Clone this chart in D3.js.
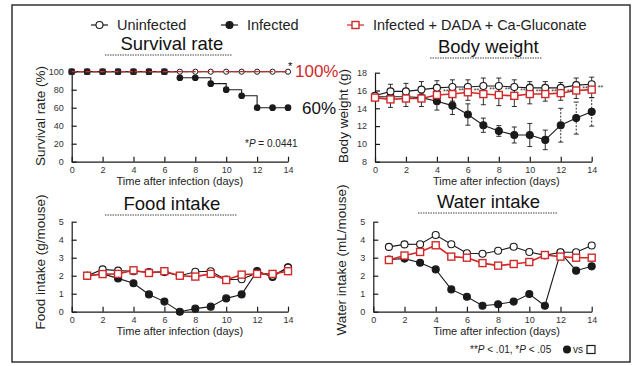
<!DOCTYPE html>
<html>
<head>
<meta charset="utf-8">
<script src="https://cdn.jsdelivr.net/npm/d3@7"></script>
<style>
  html, body { margin: 0; padding: 0; background: #fff; }
  svg { display: block; font-family: "Liberation Sans", Arial, sans-serif; }
</style>
</head>
<body>
<svg id="chart" width="637" height="366"></svg>
<script>
// ---- data ----
const days = d3.range(0, 15);            // 0..14
const intakeDays = d3.range(1, 15);      // 1..14

const survivalUninfected = [100,100,100,100,100,100,100,100,100,100,100,100,100,100,100];
const survivalInfected   = [100,100,100,100,100,100,100,93.3,93.3,86.7,80,73.3,60,60,60];
const survivalTreated    = [100,100,100,100,100,100,100,100,100,100,100,100,100,100,100];

const weightUninfected   = [15.4,15.9,15.9,16.1,16.3,16.4,16.4,16.5,16.5,16.4,16.3,16.3,16.3,16.6,16.7];
const weightUninfectedSD = [0.3,0.8,0.9,0.9,0.8,0.8,0.8,0.9,0.9,0.8,0.7,0.7,0.6,0.8,0.8];
const weightInfected     = [15.3,15.3,15.3,15.2,14.8,14.3,13.3,12.1,11.45,11.0,11.0,10.45,12.1,12.9,13.6];
const weightInfectedSD   = [0.3,0.4,0.4,0.4,1.0,1.0,1.2,0.8,0.6,0.9,1.3,1.1,1.9,1.8,1.6];
const weightTreated      = [15.2,15.0,15.1,15.1,15.5,15.6,15.8,15.6,15.5,15.4,15.6,15.6,15.7,16.0,16.1];
const weightTreatedSD    = [0.3,0.9,0.9,0.9,0.8,0.8,0.9,1.2,1.2,1.2,1.1,0.8,0.8,0.9,0.9];
const weightStarDays     = [4,5,6,7,8,9,10,11,12,13,14];

const foodUninfected = [2.0,2.35,2.28,2.25,2.2,2.2,2.0,2.22,2.25,1.78,1.8,2.15,2.0,2.45];
const foodInfected   = [2.0,2.1,1.85,1.58,0.96,0.56,0.0,0.17,0.28,0.74,0.96,2.26,1.93,2.47];
const foodTreated    = [2.0,2.09,2.1,2.3,2.15,2.25,2.0,1.95,2.1,1.76,2.06,2.1,2.1,2.25];

const waterUninfected = [3.6,3.74,3.75,4.26,3.75,3.25,3.22,3.39,3.61,3.32,3.13,3.3,3.3,3.68];
const waterInfected   = [2.9,2.95,2.72,2.35,1.24,0.83,0.33,0.41,0.56,0.98,0.33,3.28,2.28,2.52];
const waterTreated    = [2.87,3.12,3.32,3.69,3.06,3.0,2.7,2.56,2.65,2.76,3.15,3.06,3.0,3.0];

const xTicks        = [0,2,4,6,8,10,12,14];
const survivalTicks = [0,20,40,60,80,100];
const weightTicks   = [8,10,12,14,16,18];
const intakeTicks   = [0,1,2,3,4,5];

const legendLabels = ["Uninfected", "Infected", "Infected + DADA + Ca-Gluconate"];

// ---- styling ----
const RED = "#d12a2a";
const INK = "#1a1a1a";
const svg = d3.select("#chart");

// outer frame
svg.append("rect")
  .attr("x", 12).attr("y", 5).attr("width", 618).attr("height", 357)
  .attr("fill", "none").attr("stroke", "#333").attr("stroke-width", 1.5);

// legend
const legendItems = [
  { label: legendLabels[0], x: 91,  kind: "open" },
  { label: legendLabels[1], x: 221, kind: "filled" },
  { label: legendLabels[2], x: 347, kind: "square" }
];
const lg = svg.append("g").attr("transform", "translate(0,25)");
legendItems.forEach(it => {
  const g = lg.append("g").attr("transform", `translate(${it.x},0)`);
  g.append("line").attr("x1", 0).attr("x2", 17).attr("y1", 0).attr("y2", 0)
    .attr("stroke", it.kind === "square" ? RED : INK).attr("stroke-width", 1.2);
  if (it.kind === "square") {
    g.append("rect").attr("x", 5).attr("y", -3.5).attr("width", 7).attr("height", 7)
      .attr("fill", "#fff").attr("stroke", RED).attr("stroke-width", 1.4);
  } else {
    g.append("circle").attr("cx", 8.5).attr("cy", 0).attr("r", 3.5)
      .attr("fill", it.kind === "filled" ? INK : "#fff").attr("stroke", INK).attr("stroke-width", 1.1);
  }
  g.append("text").attr("x", 26).attr("y", 5).attr("font-size", 14.5).attr("fill", "#222")
    .text(it.label);
});

// generic panel builder
function panel(opts) {
  const x = d3.scaleLinear().domain([0, 14]).range([opts.x0, opts.x1]);
  const y = d3.scaleLinear().domain(opts.yDomain).range([opts.yBot, opts.yTop]);
  const g = svg.append("g");

  // axes, ticks pointing inward
  const ax = g.append("g").attr("transform", `translate(0,${opts.yBot})`)
    .call(d3.axisBottom(x).tickValues(xTicks).tickFormat(d3.format("d"))
      .tickSizeInner(-5).tickSizeOuter(0).tickPadding(5));
  const ay = g.append("g").attr("transform", `translate(${opts.x0},0)`)
    .call(d3.axisLeft(y).tickValues(opts.yTicks).tickFormat(d3.format("d"))
      .tickSizeInner(-5).tickSizeOuter(0).tickPadding(8));
  [ax, ay].forEach(a => {
    a.select(".domain").attr("stroke", INK).attr("stroke-width", 1.2);
    a.selectAll(".tick line").attr("stroke", INK).attr("stroke-width", 1.2);
    a.selectAll(".tick text").attr("font-size", 9).attr("fill", "#333")
      .attr("font-family", "Liberation Sans, Arial, sans-serif");
  });

  // title with dotted underline
  const cx = (opts.x0 + opts.x1) / 2 + opts.titleDx;
  g.append("text").attr("x", cx).attr("y", opts.titleY).attr("text-anchor", "middle")
    .attr("font-size", 18.5).attr("fill", "#111").text(opts.title);
  g.append("line").attr("x1", opts.ulX0).attr("x2", opts.ulX1)
    .attr("y1", opts.titleY + 5).attr("y2", opts.titleY + 5)
    .attr("stroke", "#444").attr("stroke-width", 1.2).attr("stroke-dasharray", "1.5,1");

  // axis titles
  g.append("text").attr("x", cx + 8).attr("y", opts.yBot + 23).attr("text-anchor", "middle")
    .attr("font-size", 11).attr("fill", "#222").text("Time after infection (days)");
  g.append("text")
    .attr("transform", `translate(${opts.ylabX},${opts.ylabY}) rotate(-90)`)
    .attr("text-anchor", "middle").attr("font-size", 13.5).attr("fill", "#222")
    .text(opts.yLabel);

  return { g, x, y };
}

function drawSeries(p, xs, ys, kind, curve, r) {
  const line = d3.line().x((d, i) => p.x(xs[i])).y(d => p.y(d)).curve(curve || d3.curveLinear);
  const stroke = kind === "square" ? RED : INK;
  p.g.append("path").datum(ys).attr("d", line).attr("fill", "none")
    .attr("stroke", stroke).attr("stroke-width", kind === "square" ? 1.6 : 1.1);
  const rad = r || 3.5;
  if (kind === "square") {
    p.g.selectAll(null).data(ys).enter().append("rect")
      .attr("x", (d, i) => p.x(xs[i]) - rad).attr("y", d => p.y(d) - rad)
      .attr("width", rad * 2).attr("height", rad * 2)
      .attr("fill", "#fff").attr("stroke", RED).attr("stroke-width", 1.4);
  } else if (kind) {
    p.g.selectAll(null).data(ys).enter().append("circle")
      .attr("cx", (d, i) => p.x(xs[i])).attr("cy", d => p.y(d)).attr("r", rad)
      .attr("fill", kind === "filled" ? INK : "#fff").attr("stroke", INK).attr("stroke-width", 1.1);
  }
}

function drawErrors(p, xs, ys, sd, color, dashedFrom) {
  const gg = p.g.append("g").attr("stroke", color).attr("stroke-width", 0.9);
  ys.forEach((v, i) => {
    const cx = p.x(xs[i]);
    const dashed = dashedFrom != null && xs[i] >= dashedFrom;
    gg.append("line").attr("x1", cx).attr("x2", cx).attr("y1", p.y(v - sd[i])).attr("y2", p.y(v + sd[i]))
      .attr("stroke-dasharray", dashed ? "2,1.5" : null);
    [v - sd[i], v + sd[i]].forEach(e => {
      gg.append("line").attr("x1", cx - 2.5).attr("x2", cx + 2.5).attr("y1", p.y(e)).attr("y2", p.y(e));
    });
  });
}

// ---- Survival rate ----
const p1 = panel({
  x0: 71.7, x1: 288, yTop: 71.7, yBot: 161.7, yDomain: [0, 100], yTicks: survivalTicks,
  title: "Survival rate", titleY: 50, titleDx: -8, ulX0: 105, ulX1: 232,
  yLabel: "Survival rate (%)", ylabX: 45, ylabY: 116
});
drawSeries(p1, days, survivalInfected, "filled", d3.curveStepAfter, 2.8);
drawSeries(p1, days, survivalUninfected, null);
p1.g.selectAll(null).data(survivalUninfected.slice(7)).enter().append("circle")
  .attr("cx", (d, i) => p1.x(days[i + 7])).attr("cy", d => p1.y(d)).attr("r", 2.6)
  .attr("fill", "#fff").attr("stroke", INK).attr("stroke-width", 1);
p1.g.selectAll(null).data(survivalInfected.slice(0, 7)).enter().append("rect")
  .attr("x", (d, i) => p1.x(days[i]) - 3).attr("y", d => p1.y(d) - 3)
  .attr("width", 6).attr("height", 6).attr("fill", "#222");
p1.g.append("path").datum(survivalTreated)
  .attr("d", d3.line().x((d, i) => p1.x(days[i])).y(d => p1.y(d)))
  .attr("fill", "none").attr("stroke", RED).attr("stroke-width", 1.2).attr("stroke-dasharray", "5,2");
p1.g.append("text").attr("x", p1.x(14) + 0).attr("y", p1.y(100) - 2).attr("font-size", 11).text("*");
p1.g.append("text").attr("x", p1.x(14) + 7).attr("y", p1.y(100) + 5).attr("font-size", 17)
  .attr("fill", RED).text(survivalTreated[14] + "%");
p1.g.append("text").attr("x", p1.x(14) + 14).attr("y", p1.y(60) + 6).attr("font-size", 17)
  .attr("fill", "#111").text(survivalInfected[14] + "%");
const pv = p1.g.append("text").attr("x", 245).attr("y", 147).attr("font-size", 10).attr("fill", "#222");
pv.append("tspan").text("*");
pv.append("tspan").attr("font-style", "italic").text("P");
pv.append("tspan").text(" = 0.0441");

// ---- Body weight ----
const p2 = panel({
  x0: 375, x1: 591.7, yTop: 72.7, yBot: 161.7, yDomain: [8, 18], yTicks: weightTicks,
  title: "Body weight", titleY: 53, titleDx: 5, ulX0: 430, ulX1: 542,
  yLabel: "Body weight (g)", ylabX: 348, ylabY: 116
});
drawErrors(p2, days, weightUninfected, weightUninfectedSD, INK);
drawErrors(p2, days, weightInfected, weightInfectedSD, INK, 12);
drawErrors(p2, days, weightTreated, weightTreatedSD, INK);
drawSeries(p2, days, weightInfected, "filled");
drawSeries(p2, days, weightUninfected, "open");
drawSeries(p2, days, weightTreated, "square");
p2.g.selectAll(null).data(weightStarDays).enter().append("text")
  .attr("x", d => p2.x(d) + 6).attr("y", d => p2.y(weightUninfected[d]) + 6)
  .attr("font-size", 7).attr("fill", "#333").text("**");

// ---- Food intake ----
const p3 = panel({
  x0: 71.7, x1: 288, yTop: 221.7, yBot: 311.7, yDomain: [0, 5], yTicks: intakeTicks,
  title: "Food intake", titleY: 210, titleDx: -8, ulX0: 105, ulX1: 237,
  yLabel: "Food intake (g/mouse)", ylabX: 45, ylabY: 262
});
drawSeries(p3, intakeDays, foodInfected, "filled");
drawSeries(p3, intakeDays, foodUninfected, "open");
drawSeries(p3, intakeDays, foodTreated, "square");

// ---- Water intake ----
const p4 = panel({
  x0: 373.3, x1: 591.7, yTop: 221.7, yBot: 311.7, yDomain: [0, 5], yTicks: intakeTicks,
  title: "Water intake", titleY: 208, titleDx: 6, ulX0: 418, ulX1: 557,
  yLabel: "Water intake (mL/mouse)", ylabX: 346, ylabY: 260
});
drawSeries(p4, intakeDays, waterInfected, "filled");
drawSeries(p4, intakeDays, waterUninfected, "open");
drawSeries(p4, intakeDays, waterTreated, "square");

// footnote
const fn = svg.append("text").attr("x", 470).attr("y", 353).attr("font-size", 10).attr("fill", "#222");
fn.append("tspan").text("**");
fn.append("tspan").attr("font-style", "italic").text("P");
fn.append("tspan").text(" < .01, *");
fn.append("tspan").attr("font-style", "italic").text("P");
fn.append("tspan").text(" < .05");
svg.append("circle").attr("cx", 567).attr("cy", 349.5).attr("r", 4).attr("fill", INK);
svg.append("text").attr("x", 573).attr("y", 353).attr("font-size", 10).attr("fill", "#222").text("vs");
svg.append("rect").attr("x", 587).attr("y", 345.5).attr("width", 8).attr("height", 8)
  .attr("fill", "#fff").attr("stroke", INK).attr("stroke-width", 1.2);
</script>
</body>
</html>
